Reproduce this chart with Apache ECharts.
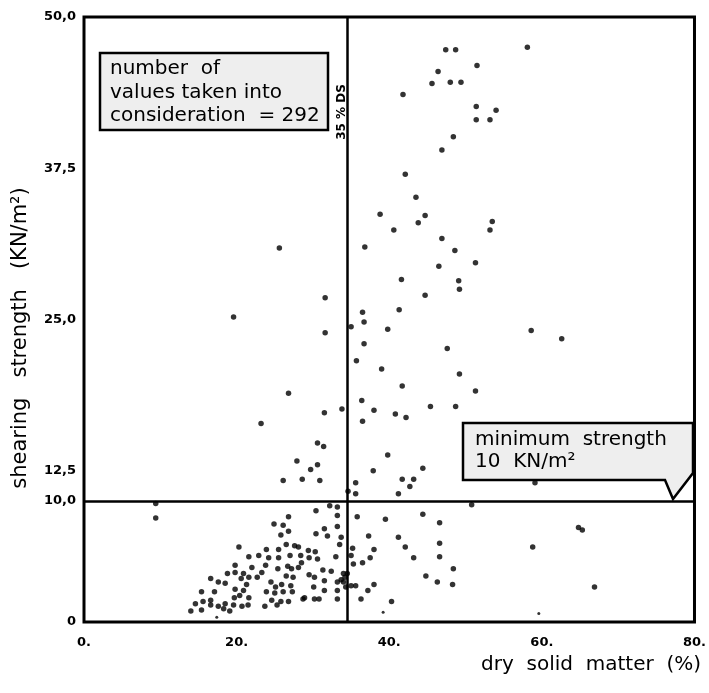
<!DOCTYPE html>
<html>
<head>
<meta charset="utf-8">
<script src="https://cdn.jsdelivr.net/npm/echarts@6/dist/echarts.min.js"></script>
<style>
html,body{margin:0;padding:0;background:#fff;}
#chart{width:709px;height:693px;}
</style>
</head>
<body>
<div id="chart"></div>
<script>
// dry solid matter (%) of each sample
const drySolid = [
47.4,48.7,58.1,51.5,46.4,45.6,48.0,49.4,41.8,51.4,54.0,51.4,53.2,48.4,46.9,42.1,43.5,38.8,40.6,43.8,
44.7,53.5,53.2,46.9,36.8,48.6,51.3,46.5,41.6,49.1,49.2,44.7,31.6,41.3,36.5,36.7,35.0,31.6,58.6,62.6,
39.8,36.7,47.6,35.7,39.0,49.2,41.7,51.3,36.4,33.8,31.5,38.0,40.8,42.2,45.4,48.7,36.5,30.6,31.4,25.6,
19.6,26.8,23.2,39.8,27.9,30.6,29.7,26.1,28.6,30.9,34.6,35.6,35.6,37.9,44.4,41.7,43.2,42.7,41.2,59.1,
9.4,9.4,50.8,30.4,32.2,33.2,33.2,35.8,39.5,44.4,46.6,64.8,65.3,33.2,31.5,31.9,30.4,37.3,41.2,42.1,
46.6,58.8,33.0,35.0,35.2,38.0,37.5,36.5,35.3,43.2,46.6,48.4,44.8,46.3,48.3,66.9,34.5,33.7,35.0,35.6,
38.0,37.2,36.3,40.3,32.4,31.3,30.2,31.5,33.2,30.1,33.2,31.5,28.7,30.2,30.8,33.2,26.8,24.9,26.1,26.8,
25.8,20.3,23.9,25.5,26.5,27.6,28.1,29.4,30.3,21.6,22.9,24.2,25.5,27.0,28.4,29.5,30.6,22.0,23.8,25.4,
26.7,27.2,28.5,28.1,20.9,23.3,29.5,34.0,34.2,20.6,22.7,26.5,27.4,24.5,25.9,27.1,34.0,20.9,23.9,25.0,
26.1,27.3,21.6,24.6,25.8,26.8,28.9,20.7,21.5,23.7,25.3,19.8,18.8,19.8,16.6,17.6,18.5,21.3,15.4,17.1,
19.8,14.6,15.6,16.6,16.6,17.6,18.5,19.7,19.6,20.4,14.0,15.4,18.3,19.1,25.1,34.3,21.6,33.5,33.7
];
// shearing strength (KN/m2) of each sample
const shearStrength = [
47.3,47.3,47.5,46.0,45.5,44.5,44.6,44.6,43.6,42.6,42.3,41.5,41.5,40.1,39.0,37.0,35.1,33.7,32.4,33.0,
33.6,33.1,32.4,31.7,31.0,30.7,29.7,29.4,28.3,28.2,27.5,27.0,26.8,25.8,25.6,24.8,24.4,23.9,24.1,23.4,
24.2,23.0,22.6,21.6,20.9,20.5,19.5,19.1,18.3,17.6,17.3,17.5,17.2,16.9,17.8,17.8,16.6,14.8,14.5,30.9,
25.2,18.9,16.4,13.8,13.3,13.0,12.6,11.7,11.8,11.7,10.8,10.6,11.5,12.5,12.7,11.8,11.8,11.2,10.6,11.5,
9.8,8.6,9.7,9.2,9.6,9.5,8.8,8.7,8.5,8.9,8.2,7.8,7.6,7.9,7.7,7.1,7.3,7.1,7.0,6.2,
6.5,6.2,5.4,5.5,6.1,6.0,5.3,4.9,4.8,5.3,5.4,4.4,3.8,3.3,3.1,2.9,4.0,3.5,3.0,3.0,
3.1,2.6,1.9,1.7,4.2,4.3,3.7,3.4,3.3,2.9,2.6,2.6,1.9,1.9,1.9,1.9,8.7,8.1,8.0,7.5,
7.2,6.2,6.0,6.0,6.4,6.3,6.2,5.9,5.8,5.4,5.5,5.3,5.3,5.5,5.5,5.3,5.2,4.5,4.7,4.4,
4.6,4.4,4.9,4.5,4.0,4.1,3.9,4.0,3.7,3.6,3.7,3.8,3.7,3.3,3.1,3.0,3.3,2.6,2.5,2.4,
2.5,2.5,2.0,1.8,1.7,1.7,2.0,1.3,1.4,1.3,1.4,4.7,4.0,4.1,3.6,3.3,3.2,3.1,2.5,2.5,
2.7,1.5,1.7,1.8,1.4,1.3,1.5,2.0,1.4,2.2,0.9,1.0,1.1,0.9,2.9,2.9,3.7,6.4,7.0
];
// faint small dots
const faintDrySolid = [39.2, 59.6, 17.4];
const faintStrength = [0.8, 0.7, 0.4];

const xTicks = [0, 20, 40, 60, 80];
const xTickLabels = ['0.', '20.', '40.', '60.', '80.'];
const yTicks = [0, 10, 12.5, 25, 37.5, 50];
const yTickLabels = ['0', '10,0', '12,5', '25,0', '37,5', '50,0'];
const dsLimit = 34.5;      // "35 % DS" line
const minStrength = 10;    // minimum strength line

const mainData = drySolid.map((x, i) => [x, shearStrength[i]]);
const faintData = faintDrySolid.map((x, i) => [x, faintStrength[i]]);

const chart = echarts.init(document.getElementById('chart'));
const labelFont = 'DejaVu Sans';
const boxFont = '20px DejaVu Sans';
chart.setOption({
  animation: false,
  backgroundColor: '#fff',
  grid: {left: 84, right: 9, top: 17, bottom: 71, show: true, borderColor: '#000', borderWidth: 3, backgroundColor: 'transparent'},
  xAxis: {
    type: 'value', min: 0, max: 80, interval: 20,
    axisLine: {show: false}, axisTick: {show: false}, splitLine: {show: false},
    axisLabel: {
      margin: 14, color: '#000', fontWeight: 'bold', fontSize: 13, fontFamily: labelFont,
      formatter: v => { const i = xTicks.indexOf(v); return i >= 0 ? xTickLabels[i] : ''; }
    }
  },
  yAxis: {
    type: 'value', min: 0, max: 50, interval: 2.5,
    axisLine: {show: false}, axisTick: {show: false}, splitLine: {show: false},
    axisLabel: {
      margin: 8, color: '#000', fontWeight: 'bold', fontSize: 13, fontFamily: labelFont,
      formatter: v => { const i = yTicks.indexOf(v); return i >= 0 ? yTickLabels[i] : ''; }
    }
  },
  series: [
    {
      type: 'scatter', data: mainData, symbolSize: 5.5,
      itemStyle: {color: '#000'},
      silent: true,
      markLine: {
        silent: true, symbol: 'none', animation: false,
        label: {show: false},
        lineStyle: {color: '#000', width: 2.5, type: 'solid'},
        data: [{xAxis: dsLimit}, {yAxis: minStrength}]
      }
    },
    {
      type: 'scatter', data: faintData, symbolSize: 3,
      itemStyle: {color: '#000'}, silent: true
    }
  ],
  graphic: [
    {type: 'rect', z: 100, shape: {x: 100, y: 53, width: 228, height: 77},
     style: {fill: '#eeeeee', stroke: '#000', lineWidth: 2.5}},
    {type: 'text', z: 101, x: 110, y: 69,
     style: {text: 'number  of', fill: '#000', font: boxFont, align: 'left', verticalAlign: 'middle'}},
    {type: 'text', z: 101, x: 110, y: 93,
     style: {text: 'values taken into', fill: '#000', font: boxFont, align: 'left', verticalAlign: 'middle'}},
    {type: 'text', z: 101, x: 110, y: 116,
     style: {text: 'consideration  = 292', fill: '#000', font: boxFont, align: 'left', verticalAlign: 'middle'}},
    {type: 'polygon', z: 100,
     shape: {points: [[463, 423], [693, 423], [693, 473], [673, 499], [665, 480], [463, 480]]},
     style: {fill: '#eeeeee', stroke: '#000', lineWidth: 2.5}},
    {type: 'text', z: 101, x: 475, y: 440,
     style: {text: 'minimum  strength', fill: '#000', font: boxFont, align: 'left', verticalAlign: 'middle'}},
    {type: 'text', z: 101, x: 475, y: 462,
     style: {text: '10  KN/m²', fill: '#000', font: boxFont, align: 'left', verticalAlign: 'middle'}},
    {type: 'text', z: 101, x: 342, y: 112, rotation: Math.PI / 2,
     style: {text: '35 % DS', fill: '#000', font: 'bold 12px DejaVu Sans', align: 'center', verticalAlign: 'middle'}},
    {type: 'text', z: 101, x: 21, y: 338, rotation: Math.PI / 2,
     style: {text: 'shearing   strength   (KN/m²)', fill: '#000', font: '21px DejaVu Sans', align: 'center', verticalAlign: 'middle'}},
    {type: 'text', z: 101, x: 701, y: 665,
     style: {text: 'dry  solid  matter  (%)', fill: '#000', font: '20px DejaVu Sans', align: 'right', verticalAlign: 'middle'}}
  ]
});
</script>
</body>
</html>
